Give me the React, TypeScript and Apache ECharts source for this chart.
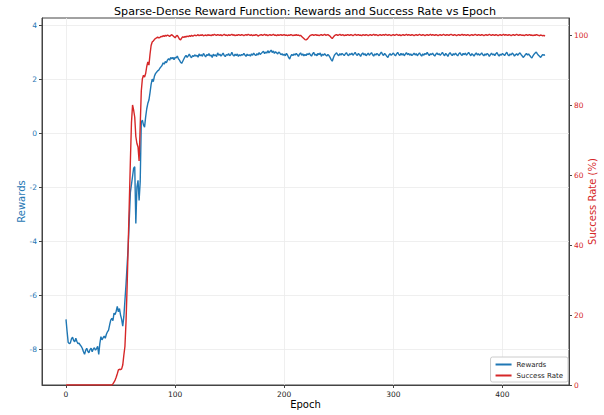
import React, { useEffect, useRef } from "react";
import * as echarts from "echarts";

const titleText = "Sparse-Dense Reward Function: Rewards and Success Rate vs Epoch";
const xTicks = [0, 100, 200, 300, 400];
const leftTicks = [-8, -6, -4, -2, 0, 2, 4];
const rightTicks = [0, 20, 40, 60, 80, 100];

// Rewards per epoch (index = epoch)
const rewards: number[] = [
  -6.90, -7.35, -7.75, -7.80, -7.77, -7.62, -7.56, -7.68, -7.73, -7.60, -7.72, -7.80, -7.78, -7.85, -7.90, -7.98, -8.10, -8.19, -8.05, -7.97,
  -8.08, -8.14, -8.02, -7.97, -8.10, -8.00, -7.95, -8.04, -7.98, -7.90, -8.20, -7.80, -7.54, -7.66, -7.58, -7.52, -7.60, -7.45, -7.36, -7.30,
  -7.10, -6.93, -6.86, -6.95, -6.67, -6.72, -6.60, -6.42, -6.62, -6.50, -6.74, -6.90, -7.15, -6.80, -6.20, -5.60, -4.90, -4.20, -3.20, -2.20,
  -1.90, -1.60, -1.30, -1.25, -3.35, -2.00, -1.75, -2.50, -1.80, 0.40, 0.48, 0.30, 0.22, 0.60, 0.90, 1.10, 1.22, 1.50, 1.80, 2.00,
  1.90, 2.10, 2.20, 2.25, 2.30, 2.33, 2.40, 2.45, 2.50, 2.60, 2.55, 2.65, 2.60, 2.70, 2.75, 2.70, 2.80, 2.75, 2.80, 2.72,
  2.80, 2.78, 2.85, 2.75, 2.70, 2.62, 2.58, 2.66, 2.74, 2.82, 2.88, 2.80, 2.86, 2.92, 2.84, 2.79, 2.87, 2.83, 2.90, 2.85,
  2.88, 2.81, 2.93, 2.86, 2.90, 2.84, 2.95, 2.88, 2.82, 2.91, 2.87, 2.94, 2.85, 2.89, 2.80, 2.92, 2.86, 2.90, 2.83, 2.97,
  2.88, 2.92, 2.85, 2.90, 2.96, 2.87, 2.83, 2.91, 2.88, 2.94, 2.86, 2.90, 2.99, 2.89, 2.85, 2.92, 2.87, 2.93, 2.84, 2.90,
  2.86, 2.91, 2.88, 2.95, 2.89, 2.84, 2.92, 2.87, 2.90, 2.85, 2.93, 2.88, 2.96, 2.90, 2.87, 2.94, 2.89, 2.98, 2.91, 2.95,
  2.99, 3.03, 2.94, 3.00, 2.96, 3.05, 2.97, 3.02, 3.07, 2.98, 3.04, 2.95, 3.01, 2.97, 2.93, 3.00, 2.96, 2.90, 2.94, 2.88,
  2.92, 2.86, 2.95, 2.89, 2.80, 2.74, 2.85, 2.91, 2.87, 2.93, 2.89, 2.95, 2.90, 2.84, 2.92, 2.97, 2.88, 2.93, 2.86, 2.91,
  2.87, 2.94, 2.90, 2.96, 2.89, 2.85, 2.93, 2.99, 2.88, 2.92, 2.86, 2.95, 2.90, 2.97, 2.84, 2.92, 2.88, 2.94, 2.89, 2.85,
  2.91, 2.87, 2.80, 2.72, 2.66, 2.78, 2.88, 2.93, 2.97, 2.90, 2.86, 2.94, 2.89, 2.95, 2.91, 2.87, 2.93, 2.98, 2.90, 2.86,
  2.94, 2.90, 2.96, 2.88, 2.93, 2.99, 2.91, 2.87, 2.95, 2.90, 2.84, 2.92, 2.97, 2.89, 2.94, 2.86, 2.91, 2.96, 2.88, 2.93,
  2.98, 2.90, 2.85, 2.93, 2.89, 2.95, 2.91, 2.86, 2.94, 3.00, 2.92, 2.87, 2.95, 2.90, 2.84, 2.80, 2.89, 2.94, 2.88, 2.92,
  2.96, 2.90, 2.86, 2.93, 2.99, 2.91, 2.87, 2.95, 2.89, 2.94, 2.86, 2.92, 2.98, 2.90, 2.95, 2.88, 2.93, 2.87, 2.91, 2.96,
  2.89, 2.94, 2.86, 2.92, 2.97, 2.90, 2.85, 2.93, 2.88, 2.95, 2.91, 2.99, 2.92, 2.87, 2.94, 2.90, 2.96, 2.89, 2.85, 2.92,
  2.97, 2.90, 2.94, 2.88, 2.93, 2.99, 2.91, 2.86, 2.95, 2.90, 2.84, 2.93, 2.98, 2.91, 2.87, 2.94, 2.89, 2.96, 2.90, 2.86,
  2.93, 2.98, 2.91, 2.87, 2.95, 2.90, 2.96, 2.88, 2.93, 2.99, 2.92, 2.86, 2.94, 2.90, 2.85, 2.92, 2.97, 2.89, 2.94, 2.88,
  2.92, 2.97, 2.90, 2.86, 2.93, 2.88, 2.95, 2.91, 2.84, 2.90, 2.96, 2.89, 2.93, 2.87, 2.94, 2.98, 2.90, 2.85, 2.92, 2.88,
  2.95, 2.91, 2.87, 2.94, 2.99, 2.90, 2.86, 2.93, 2.89, 2.96, 2.92, 2.85, 2.90, 2.94, 2.88, 2.93, 2.97, 2.91, 2.86, 2.80,
  2.84, 2.90, 2.95, 2.89, 2.93, 2.87, 2.82, 2.78, 2.86, 2.92, 2.96, 3.00, 2.93, 2.88, 2.84, 2.80, 2.86, 2.91, 2.88, 2.90,
];

// Success rate (%) per epoch (index = epoch)
const successRate: number[] = [
  0, 0, 0, 0, 0, 0, 0, 0, 0, 0, 0, 0, 0, 0, 0, 0, 0, 0, 0, 0,
  0, 0, 0, 0, 0, 0, 0, 0, 0, 0, 0, 0, 0, 0, 0, 0, 0, 0, 0, 0,
  0, 0, 0, 0.3, 0.8, 1.4, 2.2, 3.2, 4.3, 4.5, 4.4, 4.6, 5.7, 8.5, 11, 18, 28, 40, 52, 64,
  75, 80, 78.5, 76.5, 71, 69, 68, 64, 74, 84, 87.5, 88.5, 88, 89, 91, 92.3, 91.4, 94.5, 97, 98,
  98.3, 98.7, 99, 99.2, 99.4, 99.2, 99.3, 99.6, 99.5, 99.8, 99.6, 99.9, 99.7, 100.0, 99.8, 99.6, 99.9, 100.1, 99.8, 99.5,
  99.2, 99.7, 99.9, 99.4, 98.8, 98.6, 99.1, 99.5, 99.3, 99.6, 99.4, 99.7, 99.5, 99.8, 99.6, 99.9, 99.7, 99.8, 100.0, 99.8,
  99.9, 100.1, 99.8, 100.0, 99.9, 100.1, 99.8, 99.9, 100.0, 99.8, 100.1, 99.9, 100.0, 99.8, 100.1, 99.9, 100.2, 100.0, 99.9, 100.1,
  100.0, 99.9, 100.1, 99.8, 100.0, 100.2, 99.9, 100.0, 99.8, 100.1, 99.9, 100.0, 100.2, 99.9, 100.1, 99.8, 100.0, 99.9, 100.1, 100.0,
  99.9, 100.1, 100.0, 99.8, 100.0, 100.1, 99.9, 100.2, 100.0, 99.9, 100.1, 99.8, 100.0, 99.9, 100.1, 100.0, 99.7, 99.9, 100.0, 100.1,
  99.9, 100.0, 100.2, 99.9, 100.1, 99.8, 100.0, 100.1, 99.9, 100.0, 100.2, 99.9, 100.0, 99.8, 100.1, 99.9, 100.0, 100.1, 99.9, 100.0,
  100.1, 99.9, 100.0, 99.8, 100.0, 99.9, 100.1, 100.0, 99.8, 100.0, 99.9, 100.1, 99.9, 100.0, 99.8, 99.9, 99.6, 99.3, 99.0, 98.7,
  98.6, 98.8, 99.2, 99.6, 99.9, 100.0, 100.1, 99.9, 100.0, 100.1, 99.9, 100.0, 99.8, 100.0, 100.1, 99.9, 100.0, 100.2, 99.9, 100.0,
  100.1, 99.9, 99.7, 99.3, 99.0, 99.4, 99.8, 100.0, 100.1, 99.9, 100.0, 100.2, 99.9, 100.0, 100.1, 99.8, 100.0, 99.9, 100.1, 100.0,
  99.9, 100.1, 100.0, 99.8, 100.0, 100.2, 99.9, 100.0, 100.1, 99.9, 100.0, 99.8, 100.1, 100.0, 99.9, 100.1, 100.0, 99.8, 100.0, 100.1,
  99.9, 100.0, 100.2, 99.9, 100.1, 100.0, 99.8, 100.0, 100.1, 99.9, 100.0, 100.1, 99.9, 100.2, 100.0, 99.9, 100.1, 100.0, 99.8, 100.0,
  100.1, 99.9, 100.0, 100.2, 100.0, 99.9, 100.1, 99.8, 100.0, 100.1, 99.9, 100.0, 100.2, 99.9, 100.1, 100.0, 99.9, 100.1, 100.0, 99.8,
  100.0, 100.1, 99.9, 100.0, 100.2, 100.0, 99.9, 100.1, 100.0, 99.8, 100.0, 100.1, 99.9, 100.0, 100.2, 99.9, 100.1, 100.0, 99.9, 100.1,
  100.0, 99.8, 100.0, 100.1, 99.9, 100.0, 100.2, 100.0, 99.9, 100.1, 100.0, 99.9, 100.1, 100.2, 100.0, 99.9, 100.1, 100.0, 99.8, 100.0,
  100.1, 99.9, 100.0, 100.2, 99.9, 100.1, 100.0, 99.9, 100.1, 100.0, 99.8, 100.0, 100.1, 99.9, 100.0, 100.2, 100.0, 99.9, 100.1, 100.0,
  99.9, 100.1, 100.0, 99.8, 100.0, 100.1, 99.9, 100.0, 100.2, 100.0, 99.9, 100.1, 100.0, 99.9, 100.1, 100.0, 99.8, 100.0, 100.1, 99.9,
  100.0, 100.2, 99.9, 100.1, 100.0, 99.9, 100.1, 100.0, 99.8, 100.0, 100.1, 99.9, 100.0, 100.2, 100.0, 99.9, 100.1, 100.0, 99.9, 100.0,
  99.8, 100.0, 100.1, 99.9, 100.0, 100.1, 99.9, 100.0, 99.8, 100.0, 99.9, 100.1, 100.0, 99.9, 99.8, 100.0, 99.9, 99.8, 99.9, 99.7,
];

const BLUE = "#1f77b4";
const RED = "#d62728";
const FONT = "DejaVu Sans";

export default function App() {
  const ref = useRef<HTMLDivElement>(null);
  useEffect(() => {
    if (!ref.current) return;
    const chart = echarts.init(ref.current, undefined, { renderer: "svg" });
    chart.setOption({
      animation: false,
      backgroundColor: "#fff",
      textStyle: { fontFamily: FONT },
      title: {
        text: titleText,
        left: 300,
        top: 1,
        textAlign: "center",
        textStyle: { fontFamily: FONT, fontSize: 11.1, fontWeight: "normal", color: "#000" },
      },
      grid: {
        left: 42, right: 35, top: 18, bottom: 30,
        outerBoundsMode: "none",
        containLabel: false,
        show: true, borderColor: "#444", borderWidth: 1, backgroundColor: "transparent",
      },
      legend: {
        right: 36, bottom: 33,
        orient: "vertical",
        itemWidth: 16, itemHeight: 2, itemGap: 4,
        icon: "rect",
        padding: [4, 5, 3, 5],
        borderColor: "#ccc", borderWidth: 1, borderRadius: 2,
        backgroundColor: "rgba(255,255,255,0.9)",
        textStyle: { fontFamily: FONT, fontSize: 7, color: "#222" },
        data: ["Rewards", "Success Rate"],
      },
      xAxis: {
        type: "value",
        min: -22, max: 461,
        name: "Epoch", nameLocation: "middle", nameGap: 14,
        nameMoveOverlap: false,
        nameTextStyle: { fontFamily: FONT, fontSize: 10, color: "#000" },
        axisLine: { show: true, onZero: false, lineStyle: { color: "#444" } },
        axisTick: { show: true, customValues: xTicks, length: 3, lineStyle: { color: "#444" } },
        axisLabel: { customValues: xTicks, fontSize: 7.5, color: "#222", margin: 5, fontFamily: FONT },
        splitLine: { show: true, lineStyle: { color: "#ebebeb", width: 0.8 } },
      },
      yAxis: [
        {
          type: "value",
          min: -9.33, max: 4.26,
          name: "Rewards", nameLocation: "middle", nameGap: 16,
          nameMoveOverlap: false,
          nameTextStyle: { fontFamily: FONT, fontSize: 10, color: BLUE },
          axisLine: { show: true, onZero: false, lineStyle: { color: "#444" } },
          axisTick: { show: true, customValues: leftTicks, length: 3, lineStyle: { color: "#444" } },
          axisLabel: { customValues: leftTicks, fontSize: 7.5, color: BLUE, margin: 5, fontFamily: FONT },
          splitLine: { show: true, lineStyle: { color: "#ebebeb", width: 0.8 } },
        },
        {
          type: "value",
          min: 0, max: 104.86,
          position: "right",
          name: "Success Rate (%)", nameLocation: "middle", nameGap: 18,
          nameMoveOverlap: false,
          nameRotate: 90,
          nameTextStyle: { fontFamily: FONT, fontSize: 10, color: RED },
          axisLine: { show: true, onZero: false, lineStyle: { color: "#444" } },
          axisTick: { show: true, customValues: rightTicks, length: 3, lineStyle: { color: "#444" } },
          axisLabel: { customValues: rightTicks, fontSize: 7.5, color: RED, margin: 5, fontFamily: FONT },
          splitLine: { show: false },
        },
      ],
      series: [
        {
          name: "Rewards",
          type: "line",
          yAxisIndex: 0,
          showSymbol: false,
          symbol: "none",
          itemStyle: { color: BLUE },
          lineStyle: { color: BLUE, width: 1.4 },
          data: rewards.map((v, i) => [i, v]),
          z: 2,
        },
        {
          name: "Success Rate",
          type: "line",
          yAxisIndex: 1,
          showSymbol: false,
          symbol: "none",
          itemStyle: { color: RED },
          lineStyle: { color: RED, width: 1.4 },
          data: successRate.map((v, i) => [i, v]),
          z: 3,
        },
      ],
    });
    return () => chart.dispose();
  }, []);
  return (
    <div
      ref={ref}
      style={{ position: "absolute", left: 0, top: 0, width: 604, height: 415 }}
    />
  );
}
